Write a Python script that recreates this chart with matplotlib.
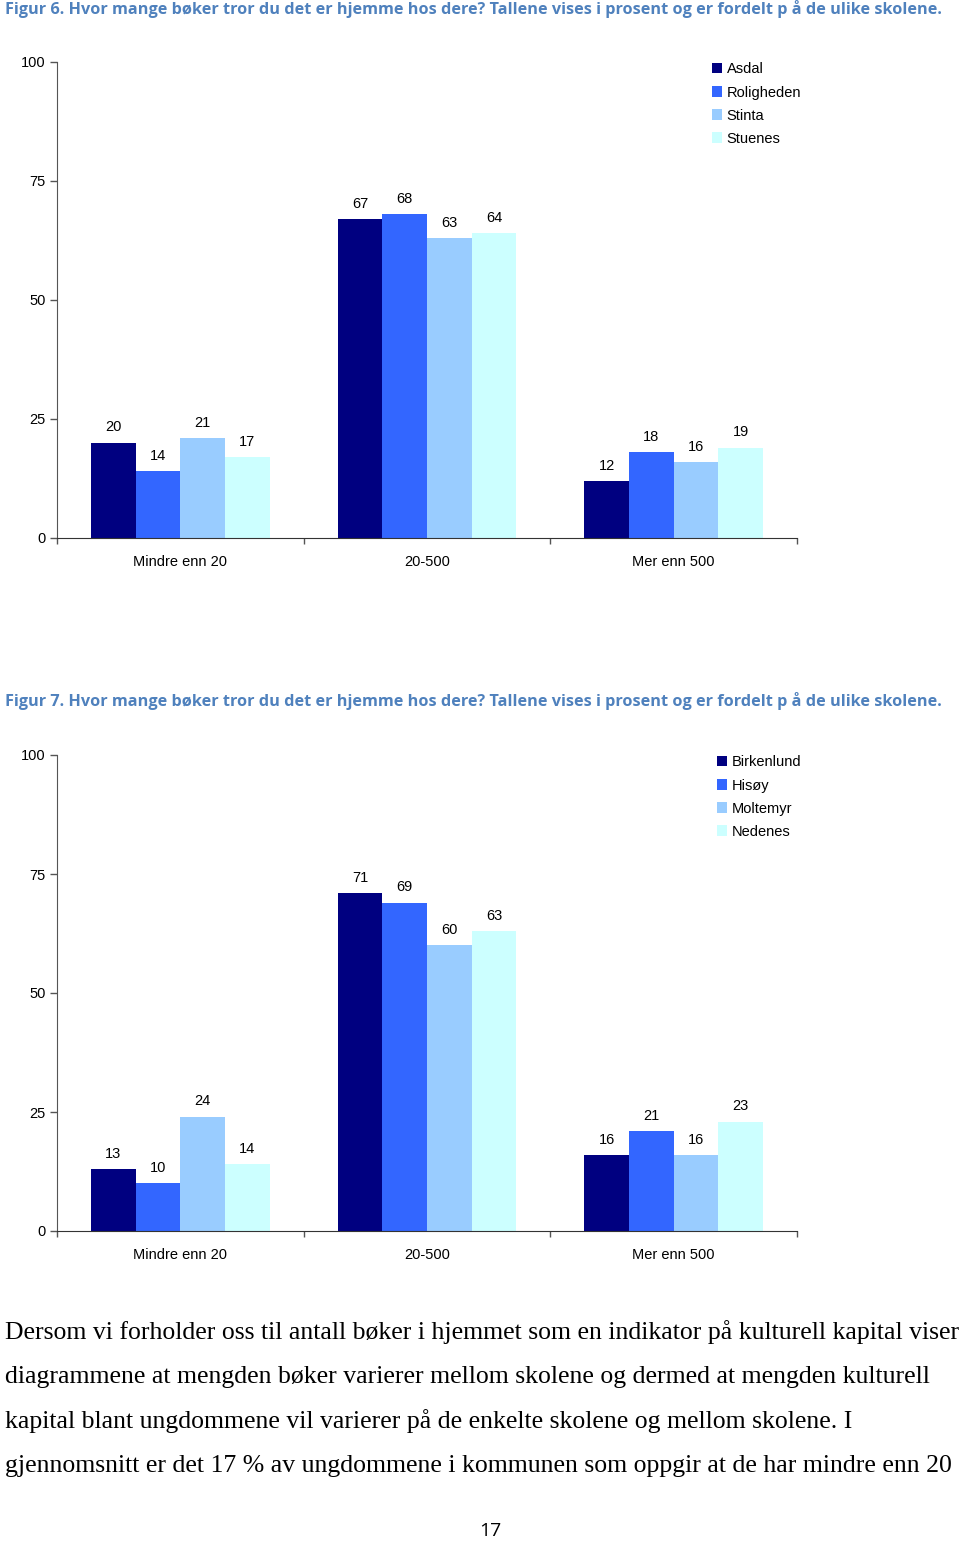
import numpy as np
import matplotlib
matplotlib.use('Agg')
import matplotlib.pyplot as plt

# Data
categories = ['Mindre enn 20', '20-500', 'Mer enn 500']

schools_fig6 = ['Asdal', 'Roligheden', 'Stinta', 'Stuenes']
asdal = [20, 67, 12]
roligheden = [14, 68, 18]
stinta = [21, 63, 16]
stuenes = [17, 64, 19]

schools_fig7 = ['Birkenlund', 'Hisøy', 'Moltemyr', 'Nedenes']
birkenlund = [13, 71, 16]
hisoy = [10, 69, 21]
moltemyr = [24, 60, 16]
nedenes = [14, 63, 23]

title6 = 'Figur 6. Hvor mange bøker tror du det er hjemme hos dere? Tallene vises i prosent og er fordelt p å de ulike skolene.'
title7 = 'Figur 7. Hvor mange bøker tror du det er hjemme hos dere? Tallene vises i prosent og er fordelt p å de ulike skolene.'

body_lines = [
    'Dersom vi forholder oss til antall bøker i hjemmet som en indikator på kulturell kapital viser',
    'diagrammene at mengden bøker varierer mellom skolene og dermed at mengden kulturell',
    'kapital blant ungdommene vil varierer på de enkelte skolene og mellom skolene. I',
    'gjennomsnitt er det 17 % av ungdommene i kommunen som oppgir at de har mindre enn 20',
]
page_number = '17'

colors = ['#000080', '#3366FF', '#99CCFF', '#CCFFFF']

W, H = 960, 1541
fig = plt.figure(figsize=(W / 100, H / 100), dpi=100)


def px_axes(left, top, right, bottom):
    return fig.add_axes([left / W, 1 - bottom / H, (right - left) / W, (bottom - top) / H])


def bar_chart(ax, names, series, legend_x):
    x = np.arange(len(categories))
    width = 0.181
    for i, (name, vals) in enumerate(zip(names, series)):
        offs = (i - 1.5) * width
        ax.bar(x + offs, vals, width, color=colors[i], label=name, linewidth=0)
        for xi, v in zip(x + offs, vals):
            ax.annotate(str(v), (xi, v), xytext=(0, 6), textcoords='offset points',
                        ha='center', va='bottom', fontsize=10.5,
                        family='Liberation Sans')
    ax.set_xlim(-0.5, 2.5)
    ax.set_ylim(0, 100)
    ax.set_yticks([0, 25, 50, 75, 100])
    ax.set_xticks([-0.5, 0.5, 1.5, 2.5])
    ax.set_xticklabels([])
    ax.set_xticks(x, minor=True)
    ax.set_xticklabels(categories, minor=True, fontsize=10.5, family='Liberation Sans')
    ax.tick_params(axis='x', which='minor', length=0, pad=12.5)
    ax.tick_params(axis='x', which='major', length=4, width=1, color='#555555')
    ax.tick_params(axis='y', length=5, width=1, color='#555555', pad=3,
                   labelsize=10.5, labelfontfamily='Liberation Sans')
    ax.spines['top'].set_visible(False)
    ax.spines['right'].set_visible(False)
    ax.spines['left'].set_color('#555555')
    ax.spines['bottom'].set_color('#333333')
    ax.legend(loc='upper left', bbox_to_anchor=(legend_x, 0.999), frameon=False,
              borderpad=0, borderaxespad=0, handlelength=0.7, handleheight=0.7,
              handletextpad=0.3, labelspacing=0.62,
              prop={'family': 'Liberation Sans', 'size': 10.5})


ax1 = px_axes(57, 62, 797, 538)
bar_chart(ax1, schools_fig6, [asdal, roligheden, stinta, stuenes], 0.885)

ax2 = px_axes(57, 755, 797, 1231)
bar_chart(ax2, schools_fig7, [birkenlund, hisoy, moltemyr, nedenes], 0.892)

title_color = '#4F81BD'
fig.text(5 / W, 1 - 9 / H, title6, color=title_color, fontsize=11.7, fontweight='bold',
         family='Open Sans', va='center', ha='left')
fig.text(5 / W, 1 - 701 / H, title7, color=title_color, fontsize=11.7, fontweight='bold',
         family='Open Sans', va='center', ha='left')

for i, line in enumerate(body_lines):
    fig.text(5 / W, 1 - (1332 + i * 44.7) / H, line, fontsize=18.5,
             family='Liberation Serif', va='center', ha='left')

fig.text(490 / W, 1 - 1531 / H, page_number, fontsize=14, family='Open Sans',
         va='center', ha='center')

fig.savefig('out.png', dpi=100)
